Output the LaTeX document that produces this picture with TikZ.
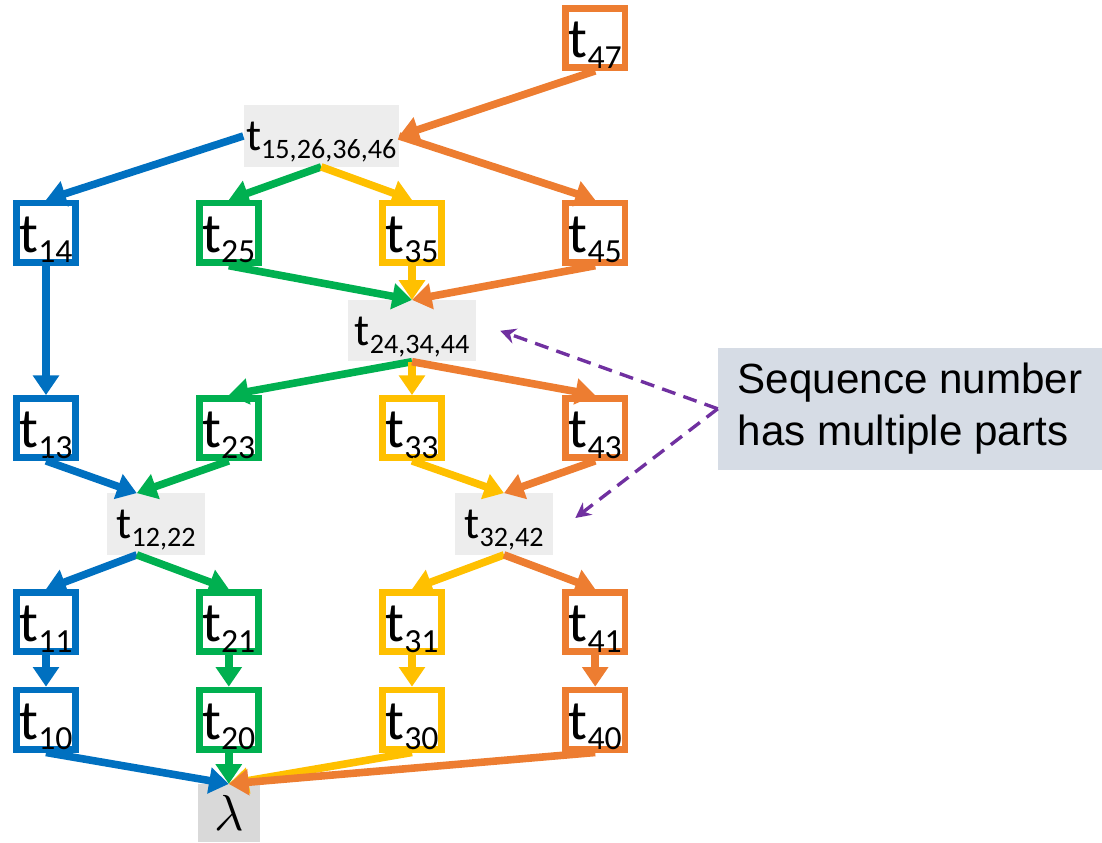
\documentclass[tikz,border=0pt]{standalone}
\usepackage{fontspec}
\setmainfont{Carlito}
\newfontfamily\notefont{Liberation Sans}
\usetikzlibrary{arrows.meta}
\definecolor{cblue}{HTML}{0070C0}
\definecolor{cgreen}{HTML}{00B050}
\definecolor{cyellow}{HTML}{FFC000}
\definecolor{corange}{HTML}{ED7D31}
\definecolor{cpurple}{HTML}{7030A0}
\definecolor{seqgray}{HTML}{EDEDED}
\definecolor{lamgray}{HTML}{D9D9D9}
\definecolor{notefill}{HTML}{D6DCE5}
% t with a lowered subscript, PowerPoint style
\newcommand{\seq}[2][24]{t\raisebox{-0.18em}{\fontsize{#1}{#1}\selectfont #2}}

\begin{document}
\begin{tikzpicture}[
  tbox/.style={draw=#1,line width=4.7pt,fill=white,minimum size=1.48cm,inner sep=0pt,
    font=\fontsize{40}{40}\selectfont,text height=30pt,text depth=1.6pt},
  seqlbl/.style={fill=seqgray,minimum height=1.53cm,inner sep=0pt,
    font=\fontsize{32}{32}\selectfont,text height=22pt,text depth=1pt},
  link/.style={line width=5.4pt,-{Triangle[length=14pt,width=18pt]}},
  note/.style={cpurple,line width=2.4pt,dash pattern=on 10pt off 6pt,-{Stealth[length=11pt,width=11pt]}}]
\useasboundingbox (0,0) rectangle (27.55,21.05);

% boxes, one column per thread
\node[tbox=cblue] (t14) at (1.15,15.23) {\seq{14}};
\node[tbox=cblue] (t13) at (1.15,10.35) {\seq{13}};
\node[tbox=cblue] (t11) at (1.15,5.5) {\seq{11}};
\node[tbox=cblue] (t10) at (1.15,3.06) {\seq{10}};
\node[tbox=cgreen] (t25) at (5.72,15.23) {\seq{25}};
\node[tbox=cgreen] (t23) at (5.72,10.35) {\seq{23}};
\node[tbox=cgreen] (t21) at (5.72,5.5) {\seq{21}};
\node[tbox=cgreen] (t20) at (5.72,3.06) {\seq{20}};
\node[tbox=cyellow] (t35) at (10.3,15.23) {\seq{35}};
\node[tbox=cyellow] (t33) at (10.3,10.35) {\seq{33}};
\node[tbox=cyellow] (t31) at (10.3,5.5) {\seq{31}};
\node[tbox=cyellow] (t30) at (10.3,3.06) {\seq{30}};
\node[tbox=corange] (t47) at (14.88,20.1) {\seq{47}};
\node[tbox=corange] (t45) at (14.88,15.23) {\seq{45}};
\node[tbox=corange] (t43) at (14.88,10.35) {\seq{43}};
\node[tbox=corange] (t41) at (14.88,5.5) {\seq{41}};
\node[tbox=corange] (t40) at (14.88,3.06) {\seq{40}};

% shared sequence numbers
\node[seqlbl,minimum width=3.88cm] (L5) at (8.03,17.65) {\seq[20]{15,26,36,46}};
\node[seqlbl,minimum width=3.2cm] (L4) at (10.3,12.78) {\seq[20]{24,34,44}};
\node[seqlbl,minimum width=2.45cm] (L2) at (3.9,7.95) {\seq[20]{12,22}};
\node[seqlbl,minimum width=2.45cm] (L3) at (12.6,7.95) {\seq[20]{32,42}};
\node[fill=lamgray,minimum width=1.55cm,minimum height=1.45cm,inner sep=0pt]
  (lam) at (5.72,0.72) {\scalebox{3.6}{$\lambda$}};

\node[fill=notefill,minimum width=9.6cm,minimum height=3.05cm,align=left,
  font=\notefont\fontsize{30}{37}\selectfont] (note) at (22.75,10.83)
  {Sequence number\\has multiple parts};

\draw[link,corange] (t47.south) -- (L5.east);
\draw[link,cblue] (L5.west) -- (t14.north);
\draw[link,cgreen] (L5.south) -- (t25.north);
\draw[link,cyellow] (L5.south) -- (t35.north);
\draw[link,corange] (L5.east) -- (t45.north);

\draw[link,cblue] (t14.south) -- (t13.north);
\draw[link,cgreen] (t25.south) -- (L4.north);
\draw[link,cyellow] (t35.south) -- (L4.north);
\draw[link,corange] (t45.south) -- (L4.north);

\draw[link,cgreen] (L4.south) -- (t23.north);
\draw[link,cyellow] (L4.south) -- (t33.north);
\draw[link,corange] (L4.south) -- (t43.north);

\draw[link,cblue] (t13.south) -- ([xshift=-0.48cm]L2.north);
\draw[link,cgreen] (t23.south) -- ([xshift=-0.48cm]L2.north);
\draw[link,cyellow] (t33.south) -- (L3.north);
\draw[link,corange] (t43.south) -- (L3.north);

\draw[link,cblue] ([xshift=-0.48cm]L2.south) -- (t11.north);
\draw[link,cgreen] ([xshift=-0.48cm]L2.south) -- (t21.north);
\draw[link,cyellow] (L3.south) -- (t31.north);
\draw[link,corange] (L3.south) -- (t41.north);

\draw[link,cblue] (t11.south) -- (t10.north);
\draw[link,cgreen] (t21.south) -- (t20.north);
\draw[link,cyellow] (t31.south) -- (t30.north);
\draw[link,corange] (t41.south) -- (t40.north);

\draw[link,cblue] (t10.south) -- (lam.north);
\draw[link,cgreen] (t20.south) -- (lam.north);
\draw[link,cyellow] (t30.south) -- (lam.north);
\draw[link,corange] (t40.south) -- (lam.north);

\draw[note] (note.west) -- ([xshift=0.6cm]L4.east);
\draw[note] (note.west) -- ([xshift=0.55cm,yshift=0.15cm]L3.east);
\end{tikzpicture}
\end{document}
